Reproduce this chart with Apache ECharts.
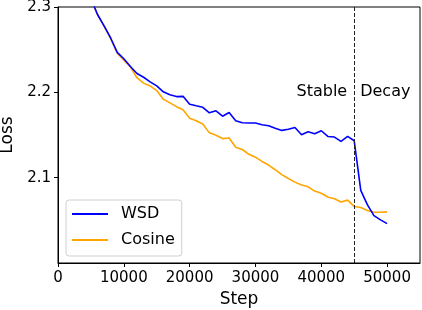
<!DOCTYPE html>
<html>
<head>
<meta charset="utf-8">
<script src="https://cdn.jsdelivr.net/npm/echarts@6/dist/echarts.min.js"></script>
<style>
html,body{margin:0;padding:0;background:#fff;}
#c{width:422px;height:310px;}
</style>
</head>
<body>
<div id="c"></div>
<script>
var steps = [5000,6000,7000,8000,9000,10000,11000,12000,13000,14000,15000,16000,17000,18000,19000,20000,21000,22000,23000,24000,25000,26000,27000,28000,29000,30000,31000,32000,33000,34000,35000,36000,37000,38000,39000,40000,41000,42000,43000,44000,45000,46000,47000,48000,49000,50000];
var wsd = [2.310,2.2912,2.2778,2.2637,2.2468,2.2394,2.2302,2.2221,2.2177,2.2123,2.2076,2.2006,2.1971,2.1950,2.1953,2.1860,2.1842,2.1825,2.1760,2.1784,2.1720,2.1764,2.1667,2.1643,2.1640,2.1640,2.1620,2.1608,2.1579,2.1554,2.1567,2.1588,2.1503,2.1538,2.1515,2.1550,2.1483,2.1476,2.1425,2.1483,2.1433,2.0851,2.0684,2.0556,2.0505,2.0462];
var cosine = [2.310,2.2910,2.2775,2.2630,2.2460,2.2378,2.2296,2.2171,2.2108,2.2075,2.2021,2.1920,2.1877,2.1832,2.1795,2.1695,2.1667,2.1630,2.1525,2.1496,2.1458,2.1465,2.1357,2.1330,2.1274,2.1240,2.1190,2.1148,2.1093,2.1035,2.0990,2.0948,2.0913,2.0893,2.0843,2.0818,2.0773,2.0752,2.0715,2.0737,2.0663,2.0650,2.0616,2.0594,2.0594,2.0599];
var xTicks = [0,10000,20000,30000,40000,50000];
var yTicks = [2.1,2.2,2.3];
var splitStep = 45000;
var phaseLabels = ['Stable','Decay'];

function pairs(xs, ys){ return xs.map(function(x,i){ return [x, ys[i]]; }); }

var chart = echarts.init(document.getElementById('c'), null, {renderer:'canvas'});
var font = 'DejaVu Sans';
chart.setOption({
  animation:false,
  backgroundColor:'#fff',
  textStyle:{fontFamily:font},
  grid:{left:58,right:2,top:7,bottom:47,containLabel:false,outerBoundsMode:'none',
        show:true,borderColor:'#000',borderWidth:1,backgroundColor:'transparent'},
  xAxis:{
    type:'value', min:0, max:55000, interval:10000,
    name:'Step', nameLocation:'middle', nameGap:28,
    nameTextStyle:{fontFamily:font,fontSize:17,color:'#000'},
    axisLine:{show:true,lineStyle:{color:'#000',width:1}},
    axisTick:{show:true,length:4,lineStyle:{color:'#000'},customValues:xTicks},
    axisLabel:{fontFamily:font,fontSize:15,color:'#000',margin:8,customValues:xTicks,
      formatter:function(v){return String(Math.round(v));}},
    splitLine:{show:false}
  },
  yAxis:{
    type:'value', min:2.0, max:2.3, interval:0.1,
    name:'Loss', nameLocation:'middle', nameGap:37,
    nameTextStyle:{fontFamily:font,fontSize:17,color:'#000'},
    axisLine:{show:true,lineStyle:{color:'#000',width:1}},
    axisTick:{show:true,length:4,lineStyle:{color:'#000'},customValues:yTicks},
    axisLabel:{fontFamily:font,fontSize:15,color:'#000',margin:7,customValues:yTicks,
      formatter:function(v){return v.toFixed(1);}},
    splitLine:{show:false}
  },
  legend:{
    orient:'vertical', left:66, top:200,
    padding:[5,7,7,6], itemGap:8, itemWidth:36, itemHeight:2, icon:'rect',
    backgroundColor:'rgba(255,255,255,0.8)', borderColor:'#d0d0d0', borderWidth:1, borderRadius:3,
    textStyle:{fontFamily:font,fontSize:16,color:'#000',padding:[0,0,0,8],lineHeight:18},
    data:['WSD','Cosine']
  },
  series:[
    {name:'WSD', type:'line', data:pairs(steps,wsd), symbol:'none', showSymbol:false,
     lineStyle:{color:'#0000ff',width:1.6}, itemStyle:{color:'#0000ff'}, z:3,
     markLine:{silent:true, symbol:['none','none'], label:{show:false},
       lineStyle:{color:'#222',width:1,type:[4,2]},
       data:[{xAxis:splitStep}]},
     markPoint:{silent:true, symbol:'circle', symbolSize:0,
       data:[
         {coord:[splitStep,2.2005], label:{show:true,position:'left',distance:7,formatter:phaseLabels[0],fontFamily:font,fontSize:16,color:'#000'}},
         {coord:[splitStep,2.2005], label:{show:true,position:'right',distance:6,formatter:phaseLabels[1],fontFamily:font,fontSize:16,color:'#000'}}
       ]}
    },
    {name:'Cosine', type:'line', data:pairs(steps,cosine), symbol:'none', showSymbol:false,
     lineStyle:{color:'#ffa500',width:1.6}, itemStyle:{color:'#ffa500'}, z:2}
  ]
});
</script>
</body>
</html>
